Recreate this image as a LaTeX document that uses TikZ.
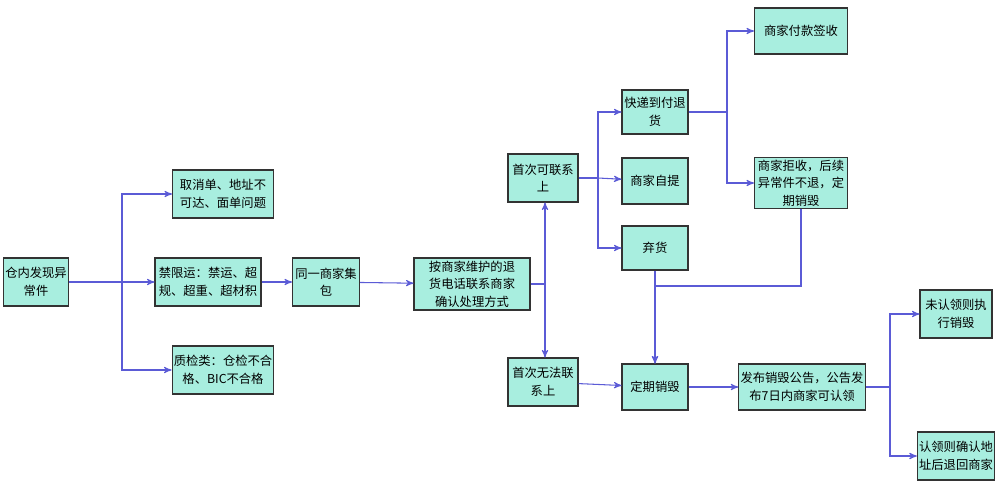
\documentclass[tikz,border=0pt]{standalone}
\usepackage{fontspec}
\newfontfamily\cjk{Noto Sans CJK SC}
\usetikzlibrary{positioning,arrows}
\definecolor{boxfill}{HTML}{A8EEDF}
\definecolor{linkcol}{HTML}{5B5BD6}

\begin{document}
\begin{tikzpicture}[x=0.02cm,y=-0.02cm,->,>=stealth',semithick,
                    font=\cjk\fontsize{7}{10}\selectfont,
                    box/.style 2 args={minimum width={#1*0.02cm},minimum height={#2*0.02cm}}]
  \tikzstyle{every node}=[draw=black!80,fill=boxfill,align=center,inner sep=1pt]
  \tikzstyle{every path}=[draw=linkcol]
  \path[draw=none,use as bounding box] (0,0) rectangle (999,486);

  \node[box={63}{48}]  (A)  at (36,282)  {仓内发现异\\常件};
  \node[box={101}{48}] (B1) at (223,194) {取消单、地址不\\可达、面单问题};
  \node[box={106}{48}] (B2) at (208,282) {禁限运：禁运、超\\规、超重、超材积};
  \node[box={101}{48}] (B3) at (223,370) {质检类：仓检不合\\格、BIC不合格};
  \node[box={67}{48}]  (C)  at (326,282) {同一商家集\\包};
  \node[box={116}{52}] (D)  at (472,284) {按商家维护的退\\货电话联系商家\\确认处理方式};
  \node[box={70}{48}]  (E1) at (543,178) {首次可联系\\上};
  \node[box={70}{48}]  (E2) at (543,382) {首次无法联\\系上};
  \node[box={66}{44}]  (F1) at (655,112) {快递到付退\\货};
  \node[box={66}{46}]  (F2) at (655,181) {商家自提};
  \node[box={66}{44}]  (F3) at (655,248) {弃货};
  \node[box={93}{46}]  (G1) at (801,31)  {商家付款签收};
  \node[box={93}{50}]  (G2) at (801,183) {商家拒收，后续\\异常件不退，定\\期销毁};
  \node[box={66}{46}]  (H)  at (655,387) {定期销毁};
  \node[box={120}{46}] (I)  at (802,387) {发布销毁公告，公告发\\布7日内商家可认领};
  \node[box={72}{48}]  (J1) at (956,314) {未认领则执\\行销毁};
  \node[box={72}{48}]  (J2) at (956,456) {认领则确认地\\址后退回商家};

  \coordinate (fa) at (122,0);
  \coordinate (fd) at (545,0);
  \coordinate (fe) at (598,0);
  \coordinate (ff) at (727,0);
  \coordinate (fi) at (890,0);
  \coordinate (fg) at (655,286);

  \draw[-] (A) -- (A -| fa);
  \draw (A -| fa) |- (B1);
  \draw (A -| fa) -- (B2);
  \draw (A -| fa) |- (B3);
  \draw (B2) -- (C);
  \draw (C) -- (D);
  \draw[-] (D) -- (D -| fd);
  \draw (D -| fd) -- (E1.south -| fd);
  \draw (D -| fd) -- (E2.north -| fd);
  \draw[-] (E1) -- (E1 -| fe);
  \draw (E1 -| fe) |- (F1);
  \draw (E1 -| fe) -- (F2);
  \draw (E1 -| fe) |- (F3);
  \draw[-] (F1) -- (F1 -| ff);
  \draw (F1 -| ff) |- (G1);
  \draw (F1 -| ff) |- (G2);
  \draw (F3) -- (H);
  \draw (G2) |- (fg) -- (H);
  \draw (E2) -- (H);
  \draw (H) -- (I);
  \draw[-] (I) -- (I -| fi);
  \draw (I -| fi) |- (J1);
  \draw (I -| fi) |- (J2);
\end{tikzpicture}
\end{document}
